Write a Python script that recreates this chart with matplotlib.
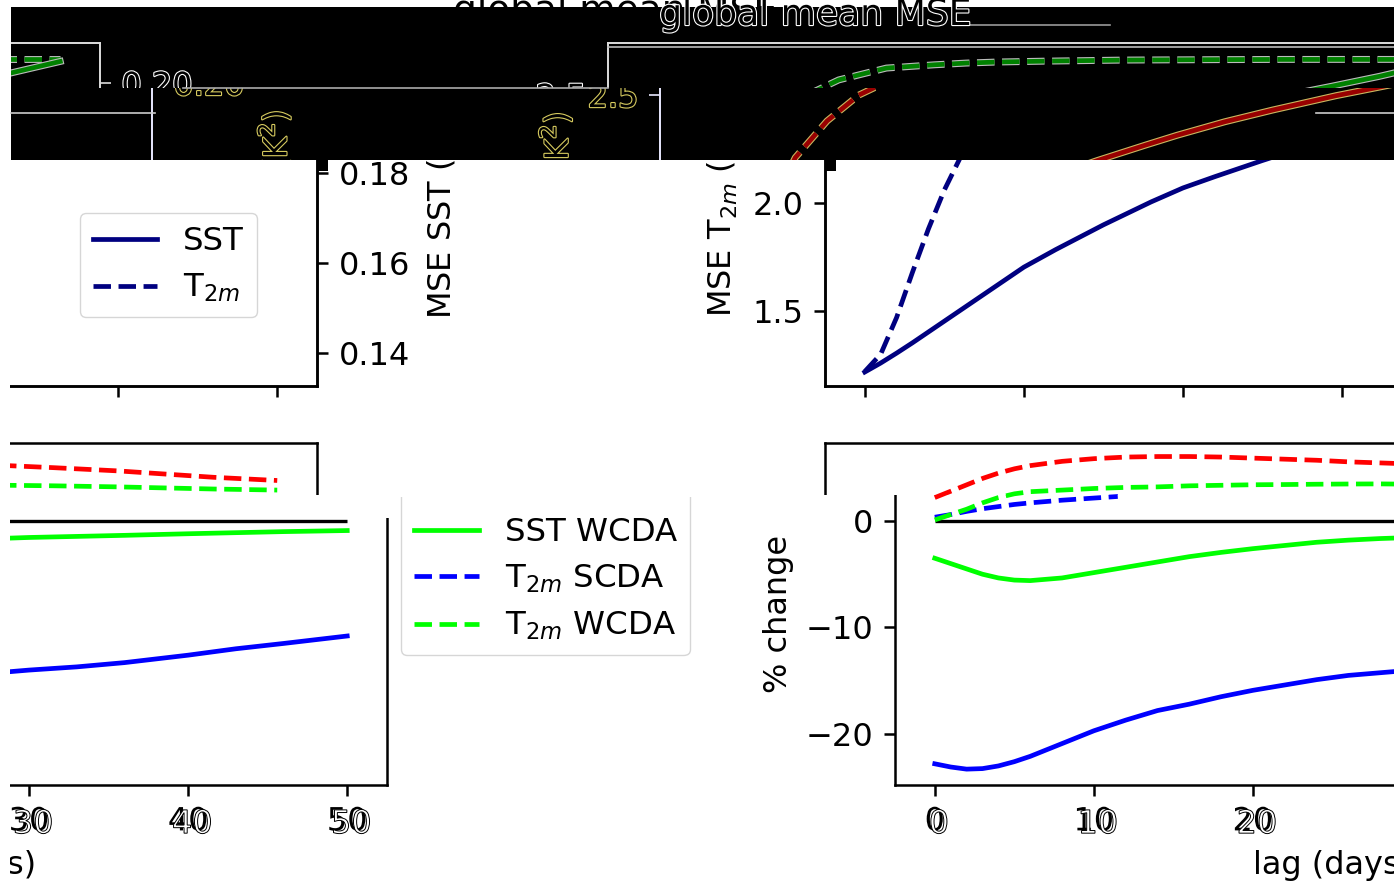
import matplotlib
matplotlib.use("Agg")
import matplotlib.pyplot as plt
import matplotlib.patheffects as pe
from matplotlib.patches import Rectangle
from matplotlib.lines import Line2D
from matplotlib.text import Text

W, H = 1394, 882

# ── data ─────────────────────────────────────────────────────────────────────
lag_mse = [0, 1, 2, 3, 4, 5, 6, 8, 10, 12, 15, 18, 20, 22, 25, 28, 30, 33, 36, 40, 43, 46, 50]
mse_sst = [0.1358, 0.1378, 0.1400, 0.1423, 0.1447, 0.1471, 0.1495, 0.1543, 0.1591, 0.1630,
           0.1685, 0.1736, 0.1767, 0.1792, 0.1828, 0.1862, 0.1884, 0.1914, 0.1940, 0.1972,
           0.1993, 0.2015, 0.2048]
mse_t2m = [1.22, 1.30, 1.47, 1.68, 1.88, 2.06, 2.21, 2.38, 2.50, 2.57, 2.625, 2.64, 2.648,
           2.653, 2.657, 2.660, 2.662, 2.663, 2.664, 2.665, 2.665, 2.665, 2.665]

lag_pct = [0, 1, 2, 3, 4, 5, 6, 8, 10, 12, 14, 16, 18, 20, 22, 24, 26, 28, 30, 33, 36, 40, 43, 46, 50]
pct_sst_scda = [-22.8, -23.1, -23.3, -23.25, -23.0, -22.6, -22.1, -20.9, -19.7, -18.7, -17.8,
                -17.2, -16.5, -15.9, -15.4, -14.9, -14.5, -14.25, -14.0, -13.7, -13.3, -12.6,
                -12.0, -11.5, -10.8]
pct_sst_wcda = [-3.5, -4.0, -4.5, -5.0, -5.35, -5.55, -5.6, -5.35, -4.85, -4.35, -3.85, -3.35,
                -2.95, -2.6, -2.3, -2.0, -1.8, -1.65, -1.55, -1.45, -1.35, -1.2, -1.1, -1.0, -0.9]
pct_t2m_red = [2.2, 2.8, 3.4, 4.0, 4.5, 4.9, 5.2, 5.6, 5.85, 6.0, 6.05, 6.05, 6.0, 5.9, 5.8,
               5.7, 5.55, 5.45, 5.35, 5.2, 5.0, 4.7, 4.4, 4.1, 3.8]
pct_t2m_wcda = [0.1, 0.6, 1.1, 1.7, 2.2, 2.55, 2.75, 2.9, 3.05, 3.15, 3.2, 3.3, 3.35, 3.4, 3.42,
                3.45, 3.47, 3.48, 3.45, 3.35, 3.3, 3.2, 3.1, 3.0, 2.9]
lag_t2m_scda = [0, 1, 2, 3, 4, 5, 6, 8, 10, 11.5]
pct_t2m_scda = [0.35, 0.6, 0.9, 1.15, 1.35, 1.55, 1.7, 1.95, 2.15, 2.3]

lag_ticks = [0, 10, 20, 30, 40, 50]
t2m_ticks = [1.5, 2.0, 2.5]
sst_ticks = [0.14, 0.16, 0.18, 0.20]
pct_ticks = [-20, -10, 0]

LAG_LIM = (-2.5, 52.5)
T2M_LIM = (1.153, 2.741)
SST_LIM = (0.1327, 0.2089)
PCT_LIM = (-24.79, 7.32)

# ── style ────────────────────────────────────────────────────────────────────
plt.rcParams.update({
    "font.family": "DejaVu Sans",
    "font.size": 23,
    "axes.linewidth": 1.8,
    "axes.labelpad": 8.8,
    "lines.linewidth": 3.4,
    "xtick.major.size": 7.7, "ytick.major.size": 7.7,
    "xtick.major.width": 1.8, "ytick.major.width": 1.8,
    "xtick.major.pad": 7.7, "ytick.major.pad": 7.7,
    "legend.fontsize": 23.3,
    "legend.labelspacing": 0.46,
})

fig = plt.figure(figsize=(W / 100, H / 100), dpi=100)


def px(x0, y0, x1, y1):
    return [x0 / W, 1 - y1 / H, (x1 - x0) / W, (y1 - y0) / H]


def clip(obj, x0, y0, x1, y1):
    box = Rectangle((x0 / W, 1 - y1 / H), (x1 - x0) / W, (y1 - y0) / H,
                    transform=fig.transFigure)
    for a in obj.findobj():
        a.set_clip_on(True)
        a.set_clip_path(box)


def frame_line(x0, x1, y, col):
    # glitch frame line of the screenshot (not data)
    fig.add_artist(Line2D([x0 / W, x1 / W], [1 - y / H, 1 - y / H], color=col,
                          lw=1.2, transform=fig.transFigure))


def mse_panel(x0, col="navy", ghost=None, legend=False):
    ax = fig.add_axes(px(x0, 43, x0 + 875, 386))
    ax.set_facecolor("none")
    ax2 = ax.twinx()
    fx = []
    if ghost:
        fx = [pe.Stroke(linewidth=5, foreground=ghost["edge"]), pe.Normal()]
    l_sst, = ax2.plot(lag_mse, mse_sst, color=col, ls="-", label="SST", path_effects=fx)
    l_t2m, = ax.plot(lag_mse, mse_t2m, color=col, ls="--", label="T$_{2m}$", path_effects=fx)
    ax.set_xlim(*LAG_LIM)
    ax.set_ylim(*T2M_LIM)
    ax2.set_ylim(*SST_LIM)
    ax.set_xticks(lag_ticks)
    ax.tick_params(labelbottom=False)
    ax.set_yticks(t2m_ticks)
    ax2.set_yticks(sst_ticks)
    ax.set_ylabel("MSE T$_{2m}$ (K$^2$)")
    ax2.set_ylabel("MSE SST (K$^2$)")
    if legend:
        ax2.legend(handles=[l_sst, l_t2m], loc="upper right",
                   bbox_to_anchor=((257 - x0) / 875, 1 - (213 - 43) / 343),
                   borderaxespad=0)
    if ghost:
        for a in (ax, ax2):
            for s in a.spines.values():
                s.set_color(ghost["spine"])
                s.set_linewidth(1.2)
            a.tick_params(colors=ghost["spine"], width=1.2)
            for t in a.findobj(Text):
                t.set_color("black")
                t.set_path_effects([pe.withStroke(linewidth=1.6, foreground=ghost["text"])])
    return ax, ax2


def pct_panel(x0, x1, xlim, legend=False, ghost_ticks=False):
    ax = fig.add_axes(px(x0, 443, x1, 785))
    ax.set_facecolor("none")
    ax.hlines(0, lag_pct[0], lag_pct[-1], color="black", lw=2.4)
    ax.plot(lag_pct, pct_sst_scda, color="blue")
    ax.plot(lag_pct, pct_sst_wcda, color="lime")
    ax.plot(lag_pct, pct_t2m_red, color="red", ls="--")
    ax.plot(lag_t2m_scda, pct_t2m_scda, color="blue", ls="--")
    ax.plot(lag_pct, pct_t2m_wcda, color="lime", ls="--")
    ax.set_xlim(*xlim)
    ax.set_ylim(*PCT_LIM)
    ax.set_xticks(lag_ticks)
    ax.set_yticks(pct_ticks)
    ax.set_xlabel("lag (days)")
    ax.set_ylabel("% change")
    leg = None
    if legend:
        handles = [Line2D([], [], color="lime", ls="-", label="SST SCDA"),
                   Line2D([], [], color="lime", ls="-", label="SST WCDA"),
                   Line2D([], [], color="blue", ls="--", label="T$_{2m}$ SCDA"),
                   Line2D([], [], color="lime", ls="--", label="T$_{2m}$ WCDA")]
        leg = ax.legend(handles=handles, loc="upper left",
                        bbox_to_anchor=((331 + 558) / 875, 1 - 15 / 342),
                        borderaxespad=0)
    if ghost_ticks:
        for lab in ax.get_xticklabels():
            lab.set_path_effects([pe.Normal(),
                                  pe.PathPatchEffect(offset=(3, -2), facecolor="white",
                                                     edgecolor="black", linewidth=0.7)])
    return ax, leg


# ── middle strip (y 160-495) ─────────────────────────────────────────────────
for a in mse_panel(-558, legend=True):
    clip(a, 10, 160, W, 495)
for a in mse_panel(825):
    clip(a, 10, 160, W, 495)
ax, _ = pct_panel(-558, 317, LAG_LIM)
clip(ax, 10, 160, W, 495)
ax, _ = pct_panel(825, 1770, (-6.92, 52.5))
clip(ax, 10, 160, W, 495)

# ── lower strip (y 495-882), shifted right ──────────────────────────────────
ax, leg = pct_panel(-488, 387, LAG_LIM, legend=True, ghost_ticks=True)
ax.xaxis.label.set_x(0.508)
clip(ax, 10, 518, W, H)
clip(leg, 10, 497, W, H)
ax, _ = pct_panel(895, 1770, LAG_LIM, ghost_ticks=True)
clip(ax, 10, 495, W, H)

# ── black top band with ghost copies of the upper panel ─────────────────────
fig.text(615 / W, 1 - 12 / H, "global mean MSE", ha="center", va="center",
         fontsize=27, color="black", zorder=-2)
fig.add_artist(Rectangle((11 / W, 1 - 160 / H), (W - 11) / W, 153 / H,
                         transform=fig.transFigure, facecolor="black",
                         edgecolor="none", zorder=-1))
for x0, y0 in ((318, 160), (826, 160)):
    fig.add_artist(Rectangle((x0 / W, 1 - 171 / H), 10 / W, (171 - y0) / H,
                             transform=fig.transFigure, facecolor="black",
                             edgecolor="none", zorder=4))

g2 = dict(edge="#bbbbbb", spine="#dddddd", text="white")
for x0 in (-775, 608):
    for a in mse_panel(x0, col="#008000", ghost=g2):
        clip(a, 11, 7, W, 88)

g1 = dict(edge="#c8b860", spine="#e8e8ff", text="#d8cc60")
for x0 in (-723, 660):
    for a in mse_panel(x0, col="#990000", ghost=g1):
        clip(a, 11, 88, W, 160)

frame_line(608, W, 46.5, "#bbbbbb")
frame_line(183, 608, 88, "#aaaaaa")
frame_line(11, 155, 113, "#cccccc")
frame_line(1316, W, 113, "#cccccc")
frame_line(970, 1110, 25, "#999999")

fig.text(815 / W, 1 - 15 / H, "global mean MSE", ha="center", va="center",
         fontsize=26, color="black",
         path_effects=[pe.withStroke(linewidth=1.6, foreground="white")])

fig.savefig("out.png", dpi=100)
